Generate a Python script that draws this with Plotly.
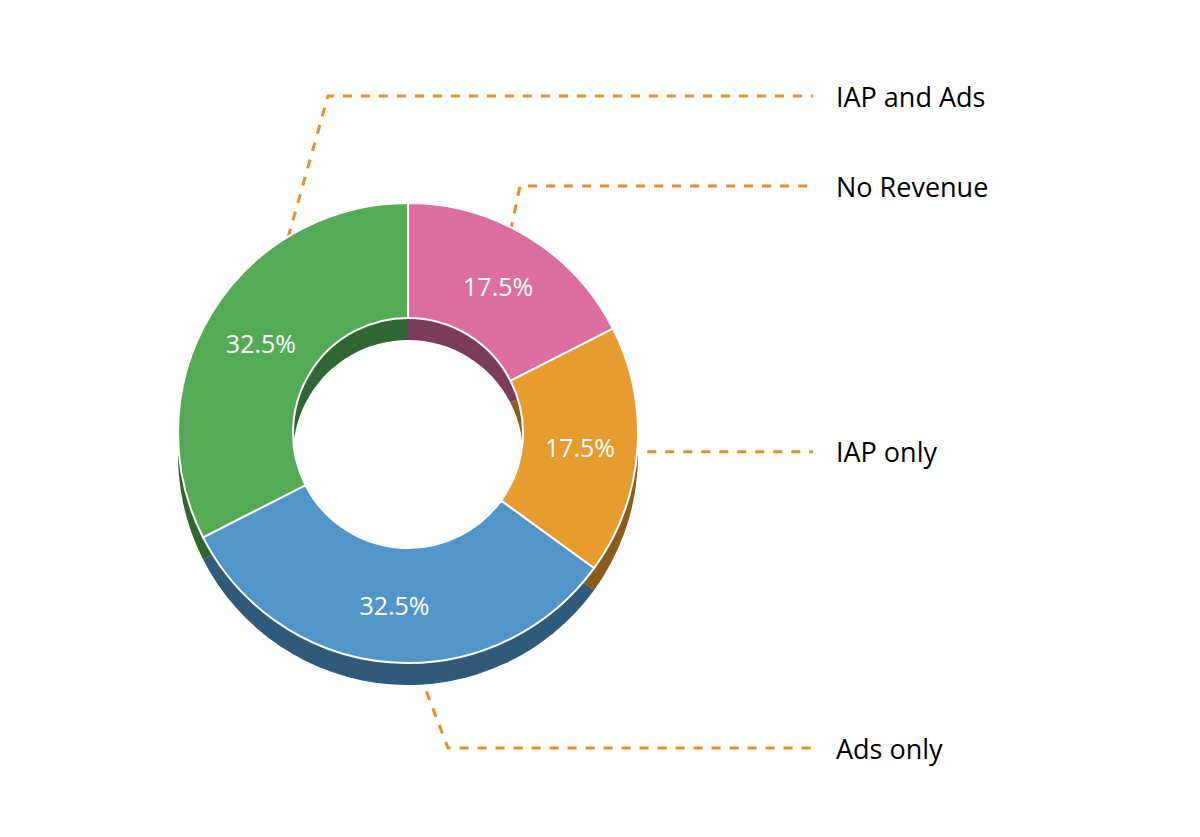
import math
import plotly.graph_objects as go

labels = ["No Revenue", "IAP only", "Ads only", "IAP and Ads"]
values = [17.5, 17.5, 32.5, 32.5]
colors = ["#DB6E9E", "#E69C2F", "#5195C9", "#55AA55"]
shadow_colors = ["#7B3B5A", "#8A5C1E", "#2F5A7A", "#2F6632"]

W, H = 1200, 837
cx, cy, R = 400, 425, 230
shift = 22

def dom(dy):
    return dict(x=[(cx - R) / W, (cx + R) / W],
                y=[(H - (cy + dy) - R) / H, (H - (cy + dy) + R) / H])

fig = go.Figure()
fig.add_trace(go.Pie(labels=labels, values=values, sort=False, direction="clockwise",
                     rotation=0, hole=0.5, domain=dom(shift), textinfo="none",
                     marker=dict(colors=shadow_colors, line=dict(color="white", width=0)),
                     showlegend=False, hoverinfo="skip"))
fig.add_trace(go.Pie(labels=labels, values=values, sort=False, direction="clockwise",
                     rotation=0, hole=0.5, domain=dom(0), texttemplate="%{value}%",
                     textposition="inside", insidetextorientation="horizontal",
                     textfont=dict(color="white", size=25, family="Open Sans"),
                     marker=dict(colors=colors, line=dict(color="white", width=2)),
                     showlegend=False))

# leader lines from slice mid-angles to labels
label_y = [178, 440, 740, 88]
elbow_x = [512, None, 440, 320]
start_r = [175, 240, 175, 175]
total = sum(values)
acc = 0
for v, name, ly, ex, r in zip(values, labels, label_y, elbow_x, start_r):
    mid = (acc + v / 2) / total * 2 * math.pi
    acc += v
    sx, sy = cx + r * math.sin(mid), cy - r * math.cos(mid)
    if ex is None:
        xs, ys = [sx, 805], [sy, sy]
    else:
        xs, ys = [sx, ex, 805], [sy, ly, ly]
    fig.add_trace(go.Scatter(x=xs, y=ys, mode="lines", showlegend=False, hoverinfo="skip",
                             line=dict(color="#F0892A", width=3, dash="dash")))
    fig.add_annotation(x=826, y=ys[-1], text=name, showarrow=False, xanchor="left",
                       font=dict(size=27, color="black", family="Open Sans"))

fig.update_xaxes(range=[0, W], visible=False, domain=[0, 1])
fig.update_yaxes(range=[H, 0], visible=False, domain=[0, 1])
fig.update_layout(width=W, height=H, margin=dict(l=0, r=0, t=0, b=0),
                  paper_bgcolor="white", plot_bgcolor="rgba(0,0,0,0)")
fig.write_html("out.html")
